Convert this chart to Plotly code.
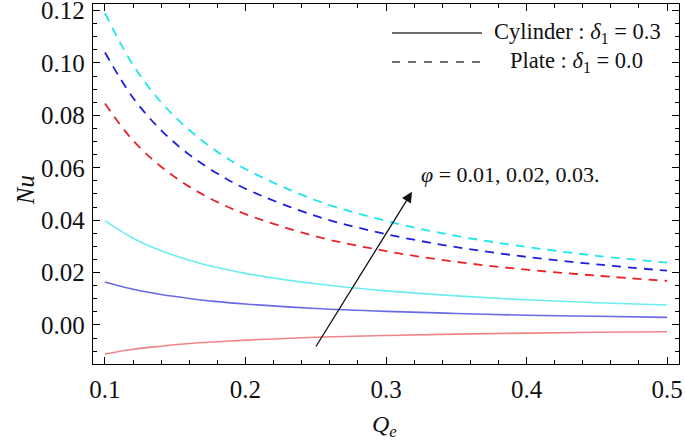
import plotly.graph_objects as go

# Data
Qe = [0.10, 0.12, 0.14, 0.16, 0.18, 0.20, 0.25, 0.30, 0.35, 0.40, 0.45, 0.50]

plate_phi03 = [0.1190, 0.0992, 0.0850, 0.0744, 0.0661, 0.0595, 0.0476, 0.0397, 0.0340, 0.0298, 0.0264, 0.0238]
plate_phi02 = [0.1040, 0.0867, 0.0743, 0.0650, 0.0578, 0.0520, 0.0416, 0.0347, 0.0297, 0.0260, 0.0231, 0.0207]
plate_phi01 = [0.0845, 0.0704, 0.0604, 0.0528, 0.0469, 0.0423, 0.0338, 0.0282, 0.0241, 0.0211, 0.0188, 0.0168]

cyl_phi03 = [0.0398, 0.0331, 0.0283, 0.0247, 0.0219, 0.0197, 0.0157, 0.0130, 0.0111, 0.0096, 0.0085, 0.0076]
cyl_phi02 = [0.0164, 0.0136, 0.0116, 0.0101, 0.0089, 0.0080, 0.0063, 0.0052, 0.0044, 0.0037, 0.0033, 0.0029]
cyl_phi01 = [-0.0111, -0.0093, -0.0081, -0.0071, -0.0064, -0.0058, -0.0047, -0.0040, -0.0035, -0.0031, -0.0028, -0.0026]

x_ticks = [0.1, 0.2, 0.3, 0.4, 0.5]
y_ticks = [0.00, 0.02, 0.04, 0.06, 0.08, 0.10, 0.12]

FONT = "Liberation Serif, Times New Roman, serif"
TXT = "#111111"

fig = go.Figure()

dashed = [(plate_phi01, "#e8242a"), (plate_phi02, "#1f1fe0"), (plate_phi03, "#1ee6ee")]
solid = [(cyl_phi01, "rgba(238,110,115,0.85)"), (cyl_phi02, "rgba(80,80,225,0.85)"), (cyl_phi03, "rgba(90,235,240,0.9)")]

for ys, c in solid:
    fig.add_trace(go.Scatter(x=Qe, y=ys, mode="lines", line=dict(color=c, width=1.6, shape="spline"),
                             showlegend=False, hoverinfo="skip"))
for ys, c in dashed:
    fig.add_trace(go.Scatter(x=Qe, y=ys, mode="lines",
                             line=dict(color=c, width=1.8, dash="9px,7px", shape="spline"),
                             showlegend=False, hoverinfo="skip"))

axis_common = dict(
    showgrid=False, zeroline=False, showline=True, linecolor="black", linewidth=1.3,
    mirror="allticks", ticks="inside", ticklen=7, tickwidth=1, tickcolor="black",
    tickfont=dict(family=FONT, size=25, color=TXT), automargin=False, ticklabeloverflow="allow",
)

fig.update_xaxes(range=[0.0915, 0.5085], tickvals=x_ticks, ticktext=[f"{v:.1f}" for v in x_ticks],
                 minor=dict(dtick=0.02, tick0=0.1, ticks="inside", ticklen=4, tickcolor="black"),
                 ticklabelstandoff=3, **axis_common)
fig.update_yaxes(range=[-0.0149, 0.1225], tickvals=y_ticks, ticktext=[f"{v:.2f}" for v in y_ticks],
                 minor=dict(dtick=0.005, tick0=0.0, ticks="inside", ticklen=4, tickcolor="black"),
                 ticklabelstandoff=2, **axis_common)

annotations = [
    dict(xref="paper", yref="paper", x=-0.116, y=0.483, xanchor="center", yanchor="middle",
         text="<i>Nu</i>", showarrow=False, textangle=-90, font=dict(family=FONT, size=25, color=TXT)),
    dict(xref="paper", yref="paper", x=0.498, y=(364 - 426) / 360, xanchor="center", yanchor="middle",
         text="<i>Q</i><sub><i>e</i></sub>", showarrow=False, font=dict(family=FONT, size=24, color=TXT)),
    # arrow
    dict(xref="x", yref="y", axref="x", ayref="y", x=0.3185, y=0.0508, ax=0.2495, ay=-0.0088,
         text="", showarrow=True, arrowhead=2, arrowsize=1.6, arrowwidth=1.3, arrowcolor="#111111"),
    dict(xref="x", yref="y", x=0.3235, y=0.0574, xanchor="left", yanchor="middle",
         text="<i>φ</i> = 0.01, 0.02, 0.03.", showarrow=False, font=dict(family=FONT, size=22, color=TXT)),
    # legend texts
    dict(xref="paper", yref="paper", x=(492 - 93) / 586, y=(364 - 33) / 360, xanchor="left", yanchor="middle",
         text="Cylinder : <i>δ</i><sub>1</sub> = 0.3", showarrow=False, font=dict(family=FONT, size=22.5, color=TXT)),
    dict(xref="paper", yref="paper", x=(508 - 93) / 586, y=(364 - 62) / 360, xanchor="left", yanchor="middle",
         text="Plate : <i>δ</i><sub>1</sub> = 0.0", showarrow=False, font=dict(family=FONT, size=22.5, color=TXT)),
]

shapes = [
    dict(type="line", xref="paper", yref="paper", x0=(392 - 93) / 586, x1=(482 - 93) / 586,
         y0=(364 - 33) / 360, y1=(364 - 33) / 360, line=dict(color="#6e6e6e", width=2)),
    dict(type="line", xref="paper", yref="paper", x0=(392 - 93) / 586, x1=(480 - 93) / 586,
         y0=(364 - 62) / 360, y1=(364 - 62) / 360, line=dict(color="#6e6e6e", width=1.8, dash="8px,8px")),
]

fig.update_layout(
    width=685, height=442,
    margin=dict(l=93, r=6, t=4, b=78),
    paper_bgcolor="white", plot_bgcolor="white",
    font=dict(family=FONT, color=TXT),
    annotations=annotations, shapes=shapes, showlegend=False,
)

fig.write_html("out.html", config={"displayModeBar": False},
               post_script="document.body.style.margin='0';document.body.style.overflow='hidden';")
